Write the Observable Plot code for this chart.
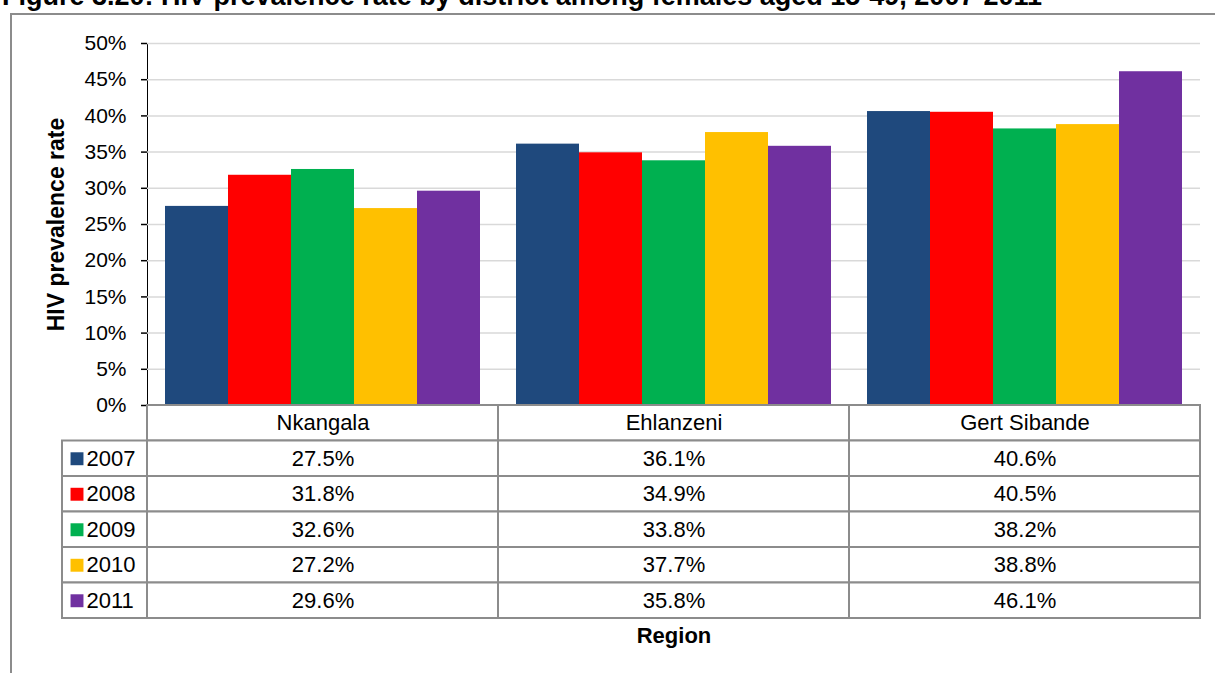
<!DOCTYPE html>
<html>
<head>
<meta charset="utf-8">
<script src="https://cdn.jsdelivr.net/npm/d3@7"></script>
<script src="https://cdn.jsdelivr.net/npm/@observablehq/plot@0.6"></script>
<style>
  html, body { margin: 0; padding: 0; background: #fff; }
  #wrap { position: relative; width: 1215px; height: 673px; overflow: hidden; font-family: "Liberation Sans", Arial, sans-serif; }
  #title { position: absolute; left: 2px; top: -17px; font: bold 27px/27px "Liberation Sans", Arial, sans-serif; white-space: nowrap; color: #000; }
  #frame { position: absolute; left: 10px; top: 13px; width: 1220px; height: 700px; border-left: 2px solid #8c8c8c; border-top: 2px solid #8c8c8c; }
  #chart, #table { position: absolute; left: 0; }
  #chart { top: 0; }
  #table { top: 405px; }
  g[aria-label="y-axis tick"] { stroke: #8c8c8c; stroke-width: 1.5; }
  .tick line { stroke: #8c8c8c; }
  g[aria-label="y-axis label"] text, g[aria-label="y-axis label"] { font-weight: bold; font-size: 23px; }
</style>
</head>
<body>
<div id="wrap">
  <div id="frame"></div>
  <div id="title">Figure 3.20: HIV prevalence rate by district among females aged 15-49, 2007-2011</div>
  <div id="chart"></div>
  <div id="table"></div>
</div>
<script>
// ---- data ----
const regions = ["Nkangala", "Ehlanzeni", "Gert Sibande"];
const years = ["2007", "2008", "2009", "2010", "2011"];
const v2007 = [27.5, 36.1, 40.6];
const v2008 = [31.8, 34.9, 40.5];
const v2009 = [32.6, 33.8, 38.2];
const v2010 = [27.2, 37.7, 38.8];
const v2011 = [29.6, 35.8, 46.1];
const yTicks = [0, 5, 10, 15, 20, 25, 30, 35, 40, 45, 50];
const colors = ["#1F497D", "#FF0000", "#00B050", "#FFC000", "#7030A0"];
const yLabel = "HIV prevalence rate";
const xLabel = "Region";

const series = [v2007, v2008, v2009, v2010, v2011];
const rows = [];
years.forEach((y, k) => regions.forEach((r, i) => rows.push({region: r, year: y, value: series[k][i], i, k})));
const pct = v => v.toFixed(1) + "%";

const FONT = '"Liberation Sans", Arial, sans-serif';

// ---- bar chart ----
const chart = Plot.plot({
  width: 1215,
  height: 406,
  marginTop: 43,
  marginBottom: 1,
  marginLeft: 147,
  marginRight: 15,
  style: {fontFamily: FONT, fontSize: "21px", color: "#000", background: "transparent", overflow: "visible"},
  fx: {domain: regions, padding: 0, axis: null},
  x: {domain: years, paddingInner: 0, paddingOuter: 0.26, axis: null},
  y: {domain: [0, 50], ticks: yTicks, tickFormat: d => d + "%", tickSize: 6, tickPadding: 15,
      label: yLabel, labelAnchor: "center", labelOffset: 100, labelArrow: "none", line: true},
  color: {domain: years, range: colors},
  marks: [
    Plot.ruleY(yTicks.filter(t => t > 0), {stroke: "#d9d9d9", strokeWidth: 1.5}),
    Plot.barY(rows, {fx: "region", x: "year", y: "value", fill: "year"}),
    Plot.ruleY([0], {stroke: "#8c8c8c", strokeWidth: 2})
  ]
});
document.getElementById("chart").appendChild(chart);

// ---- data table ----
const legendColW = 85 / 351; // width of the legend column, in region-column units
const headerCells = regions.map((r, i) => ({label: r, i}));
const legendCells = years.map((y, k) => ({year: y, k: k + 1}));

const table = Plot.plot({
  width: 1215,
  height: 268,
  marginTop: 0,
  marginBottom: 55,
  marginLeft: 147,
  marginRight: 15,
  style: {fontFamily: FONT, fontSize: "22px", color: "#000", background: "transparent", overflow: "visible"},
  x: {domain: [0, regions.length], axis: null},
  y: {domain: [0, years.length + 1], reverse: true, axis: null},
  color: {domain: years, range: colors},
  marks: [
    Plot.rect(headerCells, {x1: d => d.i, x2: d => d.i + 1, y1: 0, y2: 1, fill: "white", stroke: "#8c8c8c", strokeWidth: 2}),
    Plot.rect(rows, {x1: d => d.i, x2: d => d.i + 1, y1: d => d.k + 1, y2: d => d.k + 2, fill: "white", stroke: "#8c8c8c", strokeWidth: 2}),
    Plot.rect(legendCells, {x1: -legendColW, x2: 0, y1: d => d.k, y2: d => d.k + 1, fill: "white", stroke: "#8c8c8c", strokeWidth: 2}),
    Plot.text(headerCells, {x: d => d.i + 0.5, y: 0.5, text: "label", fill: "#000"}),
    Plot.text(rows, {x: d => d.i + 0.5, y: d => d.k + 1.5, text: d => pct(d.value), fill: "#000"}),
    Plot.dot(legendCells, {x: -legendColW, y: d => d.k + 0.5, dx: 14.5, symbol: "square", r: 7.3, fill: "year", stroke: null}),
    Plot.text(legendCells, {x: -legendColW, y: d => d.k + 0.5, dx: 24, text: "year", textAnchor: "start", fill: "#000"}),
    Plot.text([xLabel], {x: regions.length / 2, frameAnchor: "bottom", dy: 24, text: d => d, fontWeight: "bold", fill: "#000"})
  ]
});
document.getElementById("table").appendChild(table);
</script>
</body>
</html>
